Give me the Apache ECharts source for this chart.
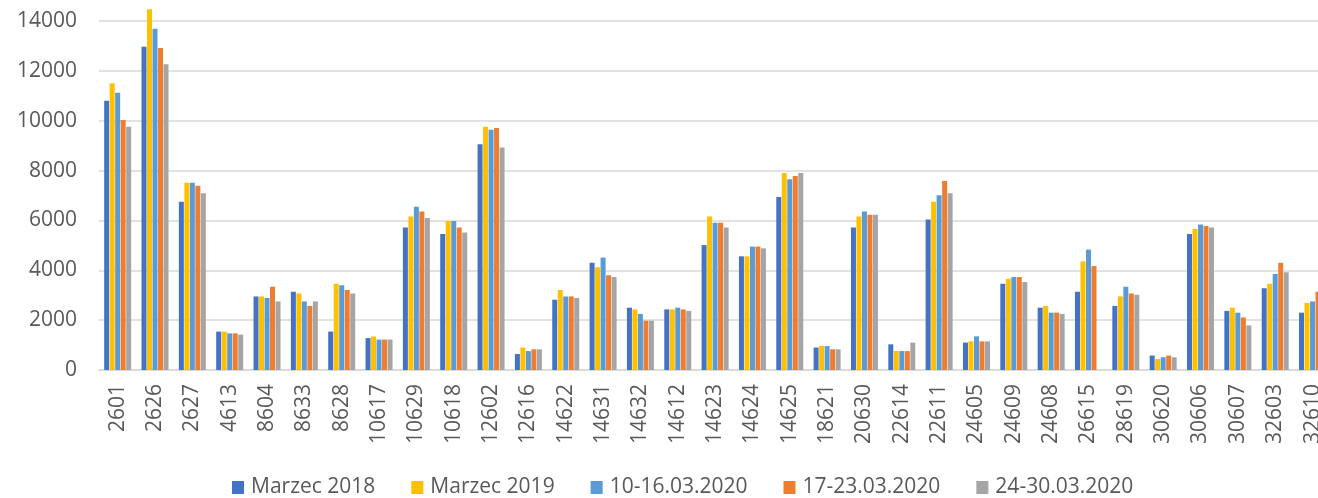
<!DOCTYPE html>
<html>
<head>
<meta charset="utf-8">
<script src="https://cdn.jsdelivr.net/npm/echarts@6/dist/echarts.min.js"></script>
<style>
html,body{margin:0;padding:0;background:#fff;}
#chart{width:1318px;height:498px;}
</style>
</head>
<body>
<div id="chart"></div>
<script>
const categories = ['2601','2626','2627','4613','8604','8633','8628','10617','10629','10618','12602','12616','14622','14631','14632','14612','14623','14624','14625','18621','20630','22614','22611','24605','24609','24608','26615','28619','30620','30606','30607','32603','32610'];
const seriesNames = ['Marzec 2018','Marzec 2019','10-16.03.2020','17-23.03.2020','24-30.03.2020'];
const marzec2018 = [10800,12970,6750,1540,2950,3140,1540,1280,5720,5460,9060,640,2820,4300,2500,2430,5010,4560,6940,900,5720,1030,6040,1100,3460,2500,3140,2570,580,5460,2370,3280,2300];
const marzec2019 = [11500,14470,7510,1540,2950,3070,3460,1340,6160,5980,9760,900,3210,4120,2430,2430,6160,4560,7900,960,6160,760,6750,1150,3660,2570,4360,2950,440,5660,2500,3460,2690];
const w10_16 = [11120,13690,7510,1470,2890,2750,3400,1220,6550,5980,9640,760,2950,4510,2250,2500,5910,4950,7650,960,6360,760,7010,1350,3730,2300,4830,3340,510,5840,2300,3850,2750];
const w17_23 = [10030,12920,7390,1470,3340,2570,3210,1220,6360,5720,9710,830,2950,3800,1980,2430,5910,4950,7780,830,6230,760,7580,1150,3730,2300,4170,3070,580,5780,2110,4300,3140];
const w24_30 = [9760,12270,7090,1420,2750,2750,3070,1220,6100,5520,8930,830,2890,3730,1980,2370,5720,4880,7900,830,6230,1100,7090,1150,3530,2250,null,3020,510,5720,1790,3920,3200];
const yTicks = [0,2000,4000,6000,8000,10000,12000,14000,16000];

const colors = ['#4472C4','#FFC000','#5B9BD5','#ED7D31','#A5A5A5'];
const values = [marzec2018, marzec2019, w10_16, w17_23, w24_30];
const font = '"Open Sans", sans-serif';
const txt = '#595959';

const chart = echarts.init(document.getElementById('chart'));
chart.setOption({
  animation: false,
  color: colors,
  grid: { left: 99, right: -13.2, top: -28.85, bottom: 128, containLabel: false, outerBoundsMode: 'none' },
  legend: {
    data: seriesNames,
    left: 227,
    top: 472,
    itemWidth: 12,
    itemHeight: 13,
    itemGap: 36,
    icon: 'rect',
    textStyle: { fontFamily: font, fontSize: 21, color: txt, padding: [0,0,0,2] }
  },
  xAxis: {
    type: 'category',
    data: categories,
    axisLine: { lineStyle: { color: '#d9d9d9', width: 1.5 } },
    axisTick: { show: false },
    axisLabel: { rotate: 90, margin: 14, fontFamily: font, fontSize: 21, color: txt, interval: 0 }
  },
  yAxis: {
    type: 'value',
    min: yTicks[0],
    max: yTicks[yTicks.length - 1],
    interval: 2000,
    axisLine: { show: false },
    axisTick: { show: false },
    splitLine: { lineStyle: { color: '#d9d9d9', width: 1.5 } },
    axisLabel: { margin: 22, fontFamily: font, fontSize: 21, color: txt, formatter: v => String(v) }
  },
  series: seriesNames.map((n, i) => ({
    name: n,
    type: 'bar',
    data: values[i],
    barWidth: 5,
    barGap: '10%',
    itemStyle: { color: colors[i] }
  }))
});
</script>
</body>
</html>
